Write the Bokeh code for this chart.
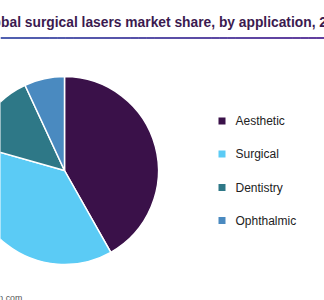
import math
from bokeh.plotting import figure
from bokeh.models import Range1d, ColumnDataSource
from bokeh.embed import file_html
from bokeh.resources import INLINE
from bokeh.core.properties import value

# ---- data ----
categories = ["Aesthetic", "Surgical", "Dentistry", "Ophthalmic"]
shares = [41.8, 37.6, 13.7, 6.9]
colors = ["#3A1149", "#5BCBF5", "#2E7887", "#4A8AC0"]
title_text = "Global surgical lasers market share, by application, 2015 (%)"
source_text = "Source: www.grandviewresearch.com"

W, H = 324, 300
p = figure(width=W, height=H, output_backend="svg", toolbar_location=None,
           x_range=Range1d(0, W), y_range=Range1d(0, H), min_border=0)
p.axis.visible = False
p.grid.visible = False
p.outline_line_color = None
p.background_fill_color = "white"
p.border_fill_color = "white"

def Y(py):
    return H - py

# title (cropped on the left like the reference)
p.text(x=[-22.4], y=[Y(22)], text=[title_text], text_font=value("Liberation Sans"),
       text_font_size="13.8px", text_font_style="bold", text_color="#3B1A4F",
       text_baseline="alphabetic", text_align="left")

# gradient rule under the title
n = 40
xs, ys, cs = [], [], []
c0 = (80, 96, 176)
c1 = (98, 62, 158)
for i in range(n):
    t = i / (n - 1)
    xs.append([W * i / n, W * (i + 1) / n + 0.5])
    ys.append([Y(37.5), Y(37.5)])
    c = tuple(int(round(c0[k] + (c1[k] - c0[k]) * t)) for k in range(3))
    cs.append("#%02x%02x%02x" % c)
p.multi_line(xs=xs, ys=ys, line_color=cs, line_width=2)

# pie
total = sum(shares)
starts, ends = [], []
acc = 0.0
for s in shares:
    a0 = math.pi / 2 - 2 * math.pi * acc / total
    acc += s
    a1 = math.pi / 2 - 2 * math.pi * acc / total
    starts.append(a0)
    ends.append(a1)
src = ColumnDataSource(dict(start=starts, end=ends, color=colors, cat=categories))
p.wedge(x=64, y=Y(170), radius=94, start_angle="start", end_angle="end",
        direction="clock", fill_color="color", line_color="white", line_width=1.5,
        source=src)

# legend
ly = [Y(120.5), Y(153.5), Y(187), Y(220)]
p.scatter(x=[221.5] * 4, y=ly, marker="square", size=7, fill_color=colors,
          line_color=None)
p.text(x=[235] * 4, y=ly, text=categories, text_font=value("Liberation Sans"),
       text_font_size="12px", text_color="#222222", text_baseline="middle",
       text_align="left")

# source (cropped)
p.text(x=[21.8], y=[Y(297)], text=[source_text], text_font=value("Liberation Sans"),
       text_font_size="8.8px", text_color="#555555", text_baseline="alphabetic",
       text_align="right")

open("out.html", "w").write(file_html(p, INLINE))
